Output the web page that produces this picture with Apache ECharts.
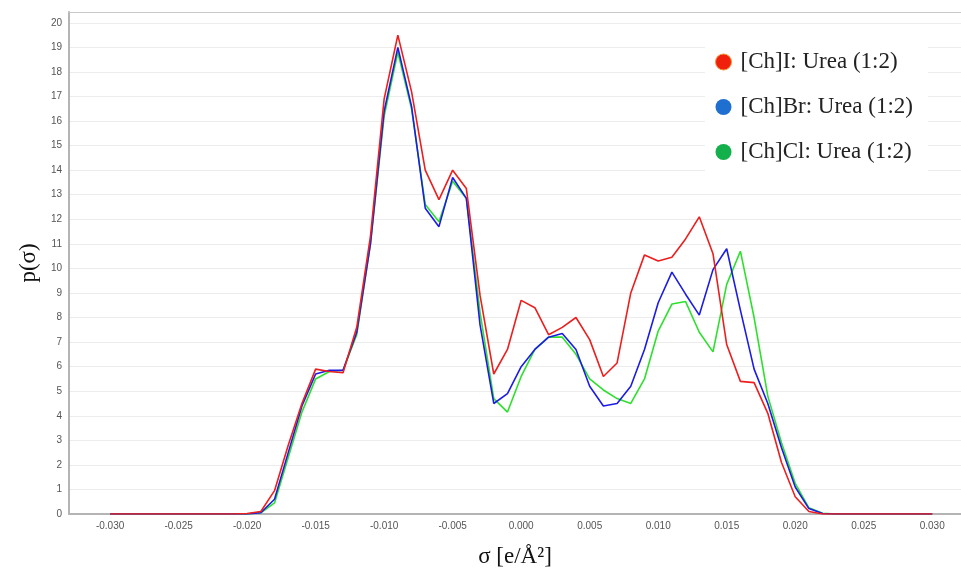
<!DOCTYPE html>
<html>
<head>
<meta charset="utf-8">
<script src="https://cdn.jsdelivr.net/npm/echarts@6/dist/echarts.min.js"></script>
<style>
html,body{margin:0;padding:0;background:#fff;}
#chart{width:961px;height:573px;}
</style>
</head>
<body>
<div id="chart"></div>
<script>
const sigma = [
  -0.030,-0.029,-0.028,-0.027,-0.026,-0.025,-0.024,-0.023,-0.022,-0.021,
  -0.020,-0.019,-0.018,-0.017,-0.016,-0.015,-0.014,-0.013,-0.012,-0.011,
  -0.010,-0.009,-0.008,-0.007,-0.006,-0.005,-0.004,-0.003,-0.002,-0.001,
  0.000,0.001,0.002,0.003,0.004,0.005,0.006,0.007,0.008,0.009,
  0.010,0.011,0.012,0.013,0.014,0.015,0.016,0.017,0.018,0.019,
  0.020,0.021,0.022,0.023,0.024,0.025,0.026,0.027,0.028,0.029,0.030
];
const chI = [
  0,0,0,0,0,0,0,0,0,0,
  0.02,0.1,0.95,2.8,4.5,5.9,5.8,5.75,7.6,11.3,
  16.9,19.5,17.2,14.0,12.8,14.0,13.25,8.9,5.7,6.7,
  8.7,8.4,7.3,7.6,8.0,7.1,5.6,6.15,9.0,10.55,
  10.3,10.45,11.2,12.1,10.6,6.9,5.4,5.35,4.1,2.1,
  0.7,0.1,0,0,0,0,0,0,0,0,0
];
const chBr = [
  0,0,0,0,0,0,0,0,0,0,
  0,0.05,0.6,2.5,4.4,5.7,5.85,5.85,7.4,11.0,
  16.4,19.0,16.6,12.45,11.7,13.7,12.85,7.7,4.5,4.9,
  6.0,6.7,7.2,7.35,6.7,5.2,4.4,4.5,5.2,6.7,
  8.6,9.85,8.95,8.1,9.95,10.8,8.3,5.9,4.5,2.7,
  1.1,0.22,0.02,0,0,0,0,0,0,0,0
];
const chCl = [
  0,0,0,0,0,0,0,0,0,0,
  0,0.05,0.45,2.3,4.15,5.5,5.8,5.85,7.3,11.0,
  16.2,18.8,16.5,12.6,11.9,13.55,12.85,8.2,4.7,4.15,
  5.6,6.7,7.2,7.2,6.5,5.5,5.05,4.7,4.5,5.5,
  7.45,8.55,8.65,7.4,6.6,9.35,10.7,8.0,4.8,2.9,
  1.25,0.25,0.03,0,0,0,0,0,0,0,0
];
const xTicks = [-0.030,-0.025,-0.020,-0.015,-0.010,-0.005,0.000,0.005,0.010,0.015,0.020,0.025,0.030];
const seriesNames = ['[Ch]I: Urea (1:2)','[Ch]Br: Urea (1:2)','[Ch]Cl: Urea (1:2)'];

function pairs(ys){ return sigma.map((x,i)=>[x, ys[i]]); }

const chart = echarts.init(document.getElementById('chart'), null, {renderer:'canvas'});
const serif = '"Liberation Serif","Times New Roman",serif';
const sans = '"Liberation Sans",Arial,sans-serif';
chart.setOption({
  animation:false,
  backgroundColor:'#fff',
  grid:{left:69,right:0,top:12,bottom:54,show:false},
  xAxis:[{
    type:'value', min:-0.033, max:0.0321,
    name:'σ [e/Å²]', nameLocation:'middle', nameGap:31,
    nameTextStyle:{fontFamily:serif,fontSize:23,color:'#111'},
    axisLine:{show:true,onZero:false,lineStyle:{color:'#b4b4b4',width:2}},
    axisTick:{show:false},
    splitLine:{show:false},
    axisLabel:{customValues:xTicks,formatter:v=>v.toFixed(3),color:'#555',fontFamily:sans,fontSize:10,margin:7}
  },{
    type:'value', position:'top', min:-0.033, max:0.0321,
    axisLine:{show:true,onZero:false,lineStyle:{color:'#c8c8c8',width:1}},
    axisTick:{show:false}, axisLabel:{show:false}, splitLine:{show:false}
  }],
  yAxis:{
    type:'value', min:0, max:20.44, interval:1,
    name:'p(σ)', nameLocation:'middle', nameGap:29,
    nameTextStyle:{fontFamily:serif,fontSize:23,color:'#111'},
    axisLine:{show:true,onZero:false,lineStyle:{color:'#b4b4b4',width:2}},
    axisTick:{show:false},
    splitLine:{show:true,lineStyle:{color:'#ececec',width:1}},
    axisLabel:{formatter:v=>(Math.abs(v-Math.round(v))<1e-6 && v<=20)?String(Math.round(v)):'',color:'#555',fontFamily:sans,fontSize:10,margin:7}
  },
  legend:{
    orient:'vertical', left:705, top:40,
    padding:[10,15,10,10],
    backgroundColor:'#fff',
    icon:'circle', itemWidth:16, itemHeight:16, itemGap:21,
    textStyle:{fontFamily:serif,fontSize:23,color:'#222',lineHeight:24,padding:[0,0,0,4]},
    data:[
      {name:seriesNames[0],itemStyle:{color:'#f0200c',borderColor:'#f59a3a',borderWidth:1}},
      {name:seriesNames[1],itemStyle:{color:'#1f6fd0'}},
      {name:seriesNames[2],itemStyle:{color:'#14b04c'}}
    ]
  },
  series:[
    {name:seriesNames[2],type:'line',data:pairs(chCl),showSymbol:false,symbol:'none',lineStyle:{color:'#2de02d',width:1.6},itemStyle:{color:'#2de02d'}},
    {name:seriesNames[1],type:'line',data:pairs(chBr),showSymbol:false,symbol:'none',lineStyle:{color:'#1c1ce6',width:1.6},itemStyle:{color:'#1c1ce6'}},
    {name:seriesNames[0],type:'line',data:pairs(chI),showSymbol:false,symbol:'none',lineStyle:{color:'#ec1e1e',width:1.6},itemStyle:{color:'#ec1e1e'}}
  ]
});
</script>
</body>
</html>
